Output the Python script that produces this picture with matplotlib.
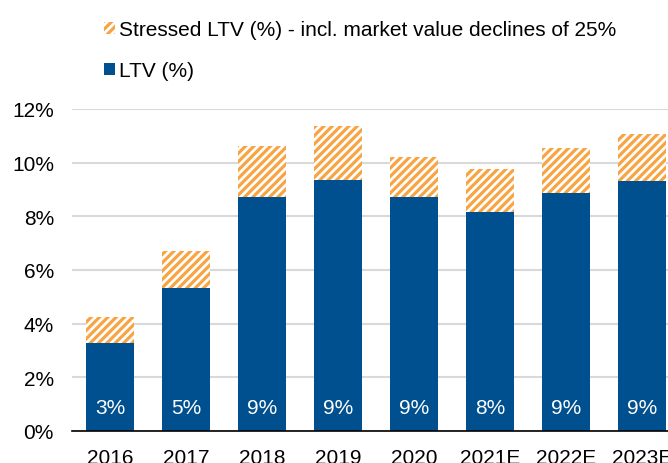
import numpy as np
import matplotlib.pyplot as plt
import matplotlib.patches as mpatches

plt.rcParams['font.family'] = ['Liberation Sans', 'DejaVu Sans']
plt.rcParams['hatch.linewidth'] = 2.3

# data
years = ['2016', '2017', '2018', '2019', '2020', '2021E', '2022E', '2023E']
ltv = [3.28, 5.33, 8.72, 9.35, 8.72, 8.16, 8.87, 9.32]
stressed = [4.25, 6.71, 10.62, 11.37, 10.21, 9.77, 10.55, 11.07]
bar_labels = ['3%', '5%', '9%', '9%', '9%', '8%', '9%', '9%']

blue = '#00508F'
orange = '#F7A544'

fig = plt.figure(figsize=(6.68, 4.64), dpi=100)
# axes runs past the right edge, like the cropped original
ax = fig.add_axes([72/668, 32/464, 608/668, 322/464])

x = np.arange(len(years))
extra = np.array(stressed) - np.array(ltv)
ax.bar(x, ltv, width=0.62, color=blue, zorder=3)
ax.bar(x, extra, width=0.62, bottom=ltv, facecolor='white', edgecolor=orange,
       hatch='////', linewidth=0, zorder=3)

for i in range(len(years)):
    ax.text(x[i], 0.86, bar_labels[i], color='white', fontsize=15,
            ha='center', va='center', zorder=4)

ax.set_xlim(-0.5, 7.5)
ax.set_ylim(0, 12)
ax.set_yticks(np.arange(0, 13, 2))
ax.set_yticklabels([f'{v}%' for v in range(0, 13, 2)])
ax.set_xticks(x)
ax.set_xticklabels(years)
ax.tick_params(axis='both', length=0, labelsize=15)
ax.tick_params(axis='y', pad=13)
ax.tick_params(axis='x', pad=12)
ax.grid(axis='y', color='#D9D9D9', linewidth=1.5, zorder=0)
for s in ['top', 'right', 'left']:
    ax.spines[s].set_visible(False)
ax.spines['bottom'].set_color('black')
ax.spines['bottom'].set_linewidth(1.2)
ax.spines['bottom'].set_zorder(5)

h1 = mpatches.Patch(facecolor='white', edgecolor=orange, hatch='////', linewidth=0,
                    label='Stressed LTV (%) - incl. market value declines of 25%')
h2 = mpatches.Patch(facecolor=blue, label='LTV (%)')
fig.legend(handles=[h1, h2], loc='upper left', bbox_to_anchor=(96/668, 1 - 13/464),
           frameon=False, fontsize=15, handlelength=0.5, handleheight=0.5,
           handletextpad=0.2, labelspacing=1.05, borderaxespad=0)

fig.savefig('out.png', dpi=100)
